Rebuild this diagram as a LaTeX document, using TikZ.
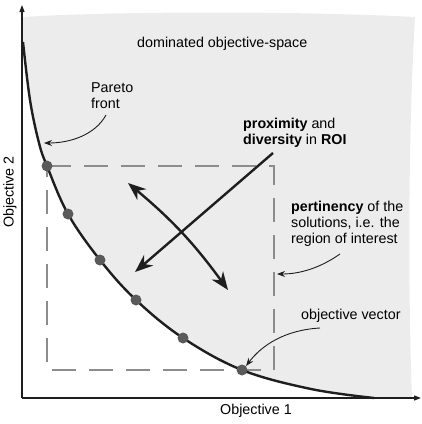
\documentclass[tikz,border=0pt]{standalone}
\usepackage{fontspec}
\setmainfont{Liberation Sans}
\usetikzlibrary{arrows.meta}
\definecolor{regiongray}{HTML}{ECECEC}
\definecolor{dotgray}{HTML}{5A5A5A}
\definecolor{dashgray}{HTML}{8C8C8C}
\definecolor{inkblack}{HTML}{1E1E1E}
\tikzset{
>={Stealth[length=18pt, width=14pt]}, % big heads for the thick arrows
axis/.style={line width=1.2pt, draw=inkblack, -{Triangle[length=7pt, width=5pt]}}, % the two axes
front/.style={line width=2.4pt, draw=inkblack}, % the Pareto front
sol/.style={circle, fill=dotgray, minimum size=11pt, inner sep=0pt}, % objective vectors on the front
roi/.style={draw=dashgray, line width=2.6pt, dash pattern=on 24pt off 13pt}, % region of interest
pointer/.style={line width=0.9pt, draw=inkblack, -{Stealth[length=8pt, width=6pt]}}, % thin arrows from the notes
bigarrow/.style={line width=2.4pt, draw=inkblack}, % proximity / diversity arrows
note/.style={align=left, inner sep=0pt, font=\fontsize{14.3pt}{16pt}\selectfont}, % sets the text of every note
}

\begin{document}
\begin{tikzpicture}[x=1pt, y=-1pt]
    \useasboundingbox (0,0) rectangle (422,424);

    % points of the front
    \coordinate (f0) at (23,42);
    \coordinate (f1) at (30,100);
    \coordinate (f2) at (39,143);
    \coordinate (f3) at (47,166);
    \coordinate (f4) at (68,214);
    \coordinate (f5) at (100,260);
    \coordinate (f6) at (136,300);
    \coordinate (f7) at (183,338);
    \coordinate (f8) at (242,370);
    \coordinate (f9) at (311,389);
    \coordinate (f10) at (374,398);

    \fill[regiongray] (22,17) -- plot[smooth, tension=0.6] coordinates {(f0) (f1) (f2) (f3) (f4) (f5) (f6) (f7) (f8) (f9) (f10)}
        -- (412,398) .. controls (408,290) and (408,140) .. (415,17)
        .. controls (300,11) and (120,11) .. (22,17) -- cycle;

    \draw[roi] (47,166) -- (274,166) -- (274,370) -- (47,370) -- cycle;

    \coordinate (origin) at (22,398);
    \coordinate (ytip) at (22,5);
    \coordinate (xtip) at (421,398);
    \draw[axis] (origin) -- (ytip);
    \draw[axis] (origin) -- (xtip);

    \draw[front] plot[smooth, tension=0.6] coordinates {(f0) (f1) (f2) (f3) (f4) (f5) (f6) (f7) (f8) (f9) (f10)};

    \node[sol] (s1) at (f3) {};
    \node[sol] (s2) at (f4) {};
    \node[sol] (s3) at (f5) {};
    \node[sol] (s4) at (f6) {};
    \node[sol] (s5) at (f7) {};
    \node[sol] (s6) at (f8) {};

    \node[note, anchor=west] (dom) at (137,44) {dominated objective-space};
    \node[note, anchor=west] (pf) at (91,96) {Pareto\\front};
    \node[note, anchor=west] (prox) at (243,133) {\textbf{proximity} and\\\textbf{diversity} in \textbf{ROI}};
    \node[note, anchor=west] (pert) at (291,224) {\textbf{pertinency} of the\\solutions, i.e. the\\region of interest};
    \node[note, anchor=west] (ov) at (301,316) {objective vector};
    \node[note] (xl) at (256,411) {Objective 1};
    \node[note, rotate=90] (yl) at (10,192) {Objective 2};

    \coordinate (prox-a) at (273,153);
    \coordinate (prox-b) at (135,272);
    \coordinate (div-a) at (128,183);
    \coordinate (div-b) at (228,290);
    \draw[bigarrow, ->] (prox-a) -- (prox-b);
    \draw[bigarrow, <->] (div-a) to[bend left=7] (div-b);

    \coordinate (pf-a) at (106,115);
    \coordinate (pf-b) at (44,143);
    \coordinate (pert-a) at (340,254);
    \coordinate (pert-b) at (277,274);
    \coordinate (ov-a) at (320,328);
    \draw[pointer] (pf-a) .. controls (95,135) and (70,143) .. (pf-b);
    \draw[pointer] (pert-a) .. controls (320,268) and (300,274) .. (pert-b);
    \draw[pointer] (ov-a) .. controls (285,330) and (262,345) .. (s6.north east);

\end{tikzpicture}
\end{document}
